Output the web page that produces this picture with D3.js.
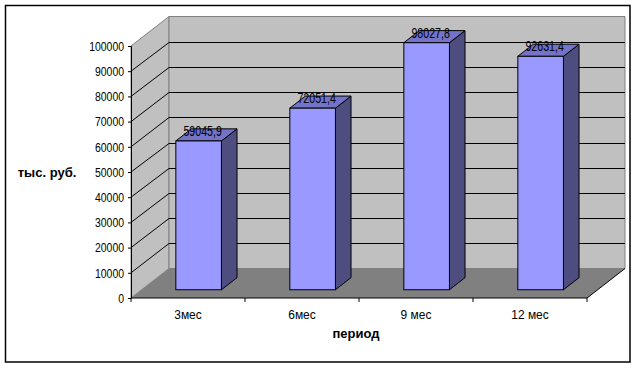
<!DOCTYPE html>
<html>
<head>
<meta charset="utf-8">
<script src="https://cdn.jsdelivr.net/npm/d3@7"></script>
<style>
  html, body { margin: 0; padding: 0; background: #fff; }
  svg { display: block; }
  text { font-family: Arial, "Liberation Sans", sans-serif; fill: #000; }
</style>
</head>
<body>
<svg id="chart" width="642" height="368"></svg>
<script>
// ---- data ----
const categories = ["3мес", "6мес", "9 мес", "12 мес"];
const values = [59045.9, 72051.4, 98027.8, 92631.4];
const valueLabels = ["59045,9", "72051,4", "98027,8", "92631,4"];
const yTicks = [0, 10000, 20000, 30000, 40000, 50000, 60000, 70000, 80000, 90000, 100000];
const yTickLabels = ["0", "10000", "20000", "30000", "40000", "50000", "60000", "70000", "80000", "90000", "100000"];
const yAxisTitle = "тыс. руб.";
const xAxisTitle = "период";

// ---- layout ----
const svg = d3.select("#chart");
const DX = 38, DY = -29.5;          // full depth offset of the 3D box
const Z0 = 0.28, Z1 = 0.69;         // bar depth range (fraction of box depth)

const x = d3.scaleBand().domain(categories).range([131, 587]).padding(0);
const y = d3.scaleLinear().domain([0, 100000]).range([298, 46]);
const bw = x.bandwidth() * 0.4;

// outer frame
svg.append("rect").attr("x", 5.5).attr("y", 5.5).attr("width", 624.5).attr("height", 356.5)
  .attr("fill", "#fff").attr("stroke", "#000").attr("stroke-width", 1.5);

const x0 = x.range()[0], x1 = x.range()[1];
const yb = y(0), yt = y(100000);

// left wall
svg.append("polygon")
  .attr("points", [[x0, yb], [x0, yt], [x0 + DX, yt + DY], [x0 + DX, yb + DY]].map(p => p.join(",")).join(" "))
  .attr("fill", "#c0c0c0").attr("stroke", "#808080").attr("stroke-width", 1);
// back wall
svg.append("polygon")
  .attr("points", [[x0 + DX, yb + DY], [x0 + DX, yt + DY], [x1 + DX, yt + DY], [x1 + DX, yb + DY]].map(p => p.join(",")).join(" "))
  .attr("fill", "#c0c0c0").attr("stroke", "#808080").attr("stroke-width", 1);
// floor
svg.append("polygon")
  .attr("points", [[x0, yb], [x1, yb], [x1 + DX, yb + DY], [x0 + DX, yb + DY]].map(p => p.join(",")).join(" "))
  .attr("fill", "#808080").attr("stroke", "none");
svg.append("line").attr("x1", x1).attr("y1", yb).attr("x2", x1 + DX).attr("y2", yb + DY)
  .attr("stroke", "#000").attr("stroke-width", 1);

// gridlines (back wall + left wall diagonals)
const inner = yTicks.filter(v => v > 0 && v < 100000);
svg.append("g").selectAll("line.gb").data(inner).join("line")
  .attr("x1", x0 + DX).attr("x2", x1 + DX)
  .attr("y1", d => Math.round(y(d) + DY) + 0.5).attr("y2", d => Math.round(y(d) + DY) + 0.5)
  .attr("stroke", "#000").attr("stroke-width", 1);
svg.append("g").selectAll("line.gl").data(inner).join("line")
  .attr("x1", x0).attr("y1", d => y(d))
  .attr("x2", x0 + DX).attr("y2", d => Math.round(y(d) + DY) + 0.5)
  .attr("stroke", "#000").attr("stroke-width", 1);

// bars
const bars = svg.append("g");
categories.forEach((c, i) => {
  const cx = x(c) + x.bandwidth() / 2;
  const fx0 = cx - bw / 2 + Z0 * DX, fx1 = cx + bw / 2 + Z0 * DX;
  const fyb = y(0) + Z0 * DY, fyt = y(values[i]) + Z0 * DY;
  const dx = (Z1 - Z0) * DX, dy = (Z1 - Z0) * DY;
  const pts = a => a.map(p => p.join(",")).join(" ");
  bars.append("polygon").attr("points", pts([[fx1, fyb], [fx1, fyt], [fx1 + dx, fyt + dy], [fx1 + dx, fyb + dy]]))
    .attr("fill", "#4d4d80").attr("stroke", "#000").attr("stroke-width", 1).attr("stroke-linejoin", "round");
  bars.append("polygon").attr("points", pts([[fx0, fyt], [fx1, fyt], [fx1 + dx, fyt + dy], [fx0 + dx, fyt + dy]]))
    .attr("fill", "#7373c7").attr("stroke", "#000").attr("stroke-width", 1).attr("stroke-linejoin", "round");
  bars.append("rect").attr("x", fx0).attr("y", fyt).attr("width", fx1 - fx0).attr("height", fyb - fyt)
    .attr("fill", "#9999ff").attr("stroke", "#000").attr("stroke-width", 1);
  const t = bars.append("text").attr("x", (fx0 + fx1) / 2 + 4).attr("y", fyt - 5)
    .attr("text-anchor", "middle").attr("font-size", 14).text(valueLabels[i]);
  const L = t.node().getComputedTextLength();
  t.attr("textLength", L * 0.76).attr("lengthAdjust", "spacingAndGlyphs");
});

// y axis
const yAxis = svg.append("g").attr("transform", `translate(${x0},0)`)
  .call(d3.axisLeft(y).tickValues(yTicks).tickFormat((d, i) => yTickLabels[i]).tickSize(3).tickPadding(4));
yAxis.select(".domain").attr("stroke", "#000");
yAxis.selectAll(".tick line").attr("stroke", "#000");
yAxis.selectAll(".tick text").attr("font-size", 12).attr("font-family", "Arial, 'Liberation Sans', sans-serif")
  .attr("fill", "#000").attr("dy", "0.36em")
  .each(function () {
    const L = this.getComputedTextLength();
    d3.select(this).attr("textLength", L * 0.87).attr("lengthAdjust", "spacingAndGlyphs");
  });

// x axis
const xAxis = svg.append("g").attr("transform", `translate(0,${yb})`)
  .call(d3.axisBottom(x).tickSize(0).tickPadding(0));
xAxis.select(".domain").remove();
xAxis.selectAll(".tick text").attr("font-size", 13).attr("font-family", "Arial, 'Liberation Sans', sans-serif")
  .attr("fill", "#000").attr("y", 21).attr("dy", 0)
  .each(function () {
    const L = this.getComputedTextLength();
    d3.select(this).attr("textLength", L * 0.92).attr("lengthAdjust", "spacingAndGlyphs");
  });
svg.append("line").attr("x1", x0).attr("x2", x1).attr("y1", yb).attr("y2", yb).attr("stroke", "#000");
const bounds = categories.map(c => x(c)).concat([x1]);
svg.append("g").selectAll("line").data(bounds).join("line")
  .attr("x1", d => d).attr("x2", d => d).attr("y1", yb).attr("y2", yb + 4)
  .attr("stroke", "#000");

// axis titles
svg.append("text").attr("x", 47).attr("y", 177).attr("text-anchor", "middle")
  .attr("font-size", 13).attr("font-weight", "bold").text(yAxisTitle);
svg.append("text").attr("x", 356).attr("y", 338).attr("text-anchor", "middle")
  .attr("font-size", 13).attr("font-weight", "bold").text(xAxisTitle);
</script>
</body>
</html>
